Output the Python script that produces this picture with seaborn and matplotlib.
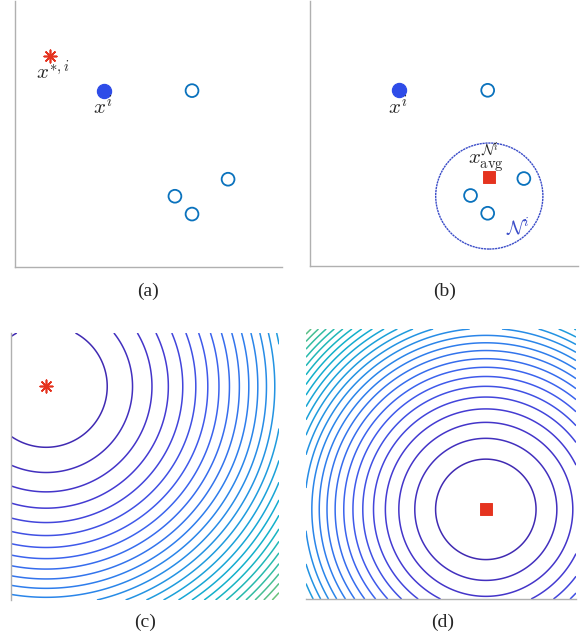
import numpy as np
import pandas as pd
import seaborn as sns
import matplotlib
matplotlib.use("Agg")
import matplotlib.pyplot as plt
from matplotlib.colors import LinearSegmentedColormap

# point positions (axes run 0..1)
agent_x, agent_y = [0.333], [0.663]
star_x, star_y = [0.131], [0.794]
nbr_x = [0.663, 0.798, 0.599, 0.663]
nbr_y = [0.663, 0.330, 0.266, 0.199]
avg_x, avg_y = [0.667], [0.337]
ball_center = (0.669, 0.264)
ball_radius = 0.200

# contour panels: center of the quadratic and level spacing
c_center, c_step, c_nlev = (0.131, 0.800), 0.052, 40
d_center, d_step, d_nlev = (0.666, 0.332), 0.0346, 40

panel_labels = ["(a)", "(b)", "(c)", "(d)"]

RED = "#e5331f"
BLUE_FILL = "#2e4ce8"
BLUE_OPEN = "#0a72bd"
BALL = "#3a4cc8"
SPINE = "#b0b0b0"

# rough parula
parula = LinearSegmentedColormap.from_list("parula_like", [
    (0.00, "#3e26a8"), (0.08, "#4538d0"), (0.16, "#3e5ced"),
    (0.25, "#2d80ec"), (0.33, "#1f9ade"), (0.42, "#12b1cc"),
    (0.50, "#2bbba8"), (0.60, "#7cc46c"), (0.70, "#c4c03c"),
    (0.82, "#fcbd3c"), (1.00, "#f9fb15")])

sns.set_style("white")
plt.rcParams["mathtext.fontset"] = "cm"

W, H = 587, 639
fig = plt.figure(figsize=(W / 100, H / 100), dpi=100)


def px_axes(x0, y0, x1, y1):
    return fig.add_axes([x0 / W, 1 - y1 / H, (x1 - x0) / W, (y1 - y0) / H])


def style(ax, left=True, bottom=True):
    ax.set_xlim(0, 1)
    ax.set_ylim(0, 1)
    ax.set_xticks([])
    ax.set_yticks([])
    for side, sp in ax.spines.items():
        show = (side == "left" and left) or (side == "bottom" and bottom)
        sp.set_visible(show)
        sp.set_color(SPINE)
        sp.set_linewidth(1.0)


def scatter_common(ax):
    sns.scatterplot(x=nbr_x, y=nbr_y, ax=ax, s=85, marker="o",
                    facecolor="none", edgecolor=BLUE_OPEN, linewidth=1.3,
                    legend=False, zorder=3)
    sns.scatterplot(x=agent_x, y=agent_y, ax=ax, s=105, marker="o",
                    color=BLUE_FILL, edgecolor=BLUE_FILL, legend=False, zorder=3)
    ax.text(agent_x[0] - 0.006, agent_y[0] - 0.062, r"$x^i$", ha="center",
            va="center", fontsize=15)


# (a)
ax_a = px_axes(15, 1, 282, 267)
style(ax_a)
scatter_common(ax_a)
sns.scatterplot(x=star_x, y=star_y, ax=ax_a, s=80, marker=(8, 2, 0),
                color=RED, edgecolor=RED, linewidth=1.2, legend=False)
ax_a.text(star_x[0] + 0.01, star_y[0] - 0.06, r"$x^{*,i}$", ha="center",
          va="center", fontsize=15)

# (b)
ax_b = px_axes(310, 1, 578, 266)
style(ax_b)
scatter_common(ax_b)
sns.scatterplot(x=avg_x, y=avg_y, ax=ax_b, s=70, marker="s", color=RED,
                edgecolor=RED, legend=False, zorder=4)
ax_b.add_patch(plt.Circle(ball_center, ball_radius, fill=False,
                          edgecolor=BALL, linewidth=1.0, linestyle=(0, (1.6, 0.5))))
ax_b.text(avg_x[0] - 0.012, avg_y[0] + 0.07, r"$x_{\rm avg}^{\mathcal{N}^i}$",
          ha="center", va="center", fontsize=15)
ax_b.text(0.775, 0.145, r"$\mathcal{N}^i$", ha="center", va="center",
          fontsize=14, color=BALL)


def contour_panel(ax, center, step, nlev):
    g = np.linspace(0, 1, 500)
    X, Y = np.meshgrid(g, g)
    Z = (X - center[0]) ** 2 + (Y - center[1]) ** 2
    levels = step * np.arange(1, nlev + 1)
    ax.contour(X, Y, Z, levels=levels, cmap=parula, vmin=0,
               vmax=step * 45, linewidths=1.1)


# (c)
ax_c = px_axes(11, 333, 279, 600)
style(ax_c, left=True, bottom=False)
contour_panel(ax_c, c_center, c_step, c_nlev)
sns.scatterplot(x=star_x, y=[c_center[1]], ax=ax_c, s=80, marker=(8, 2, 0),
                color=RED, edgecolor=RED, linewidth=1.2, legend=False, zorder=4)

# (d)
ax_d = px_axes(306, 329, 576, 599)
style(ax_d, left=False, bottom=True)
contour_panel(ax_d, d_center, d_step, d_nlev)
sns.scatterplot(x=[d_center[0]], y=[d_center[1]], ax=ax_d, s=70, marker="s",
                color=RED, edgecolor=RED, legend=False, zorder=4)

label_pos = [(148, 291), (445, 291), (145, 622), (443, 622)]
for lab, (x, y) in zip(panel_labels, label_pos):
    fig.text(x / W, 1 - y / H, lab, ha="center", va="center", fontsize=14,
             family="Liberation Serif")

fig.savefig("out.png", dpi=100)
